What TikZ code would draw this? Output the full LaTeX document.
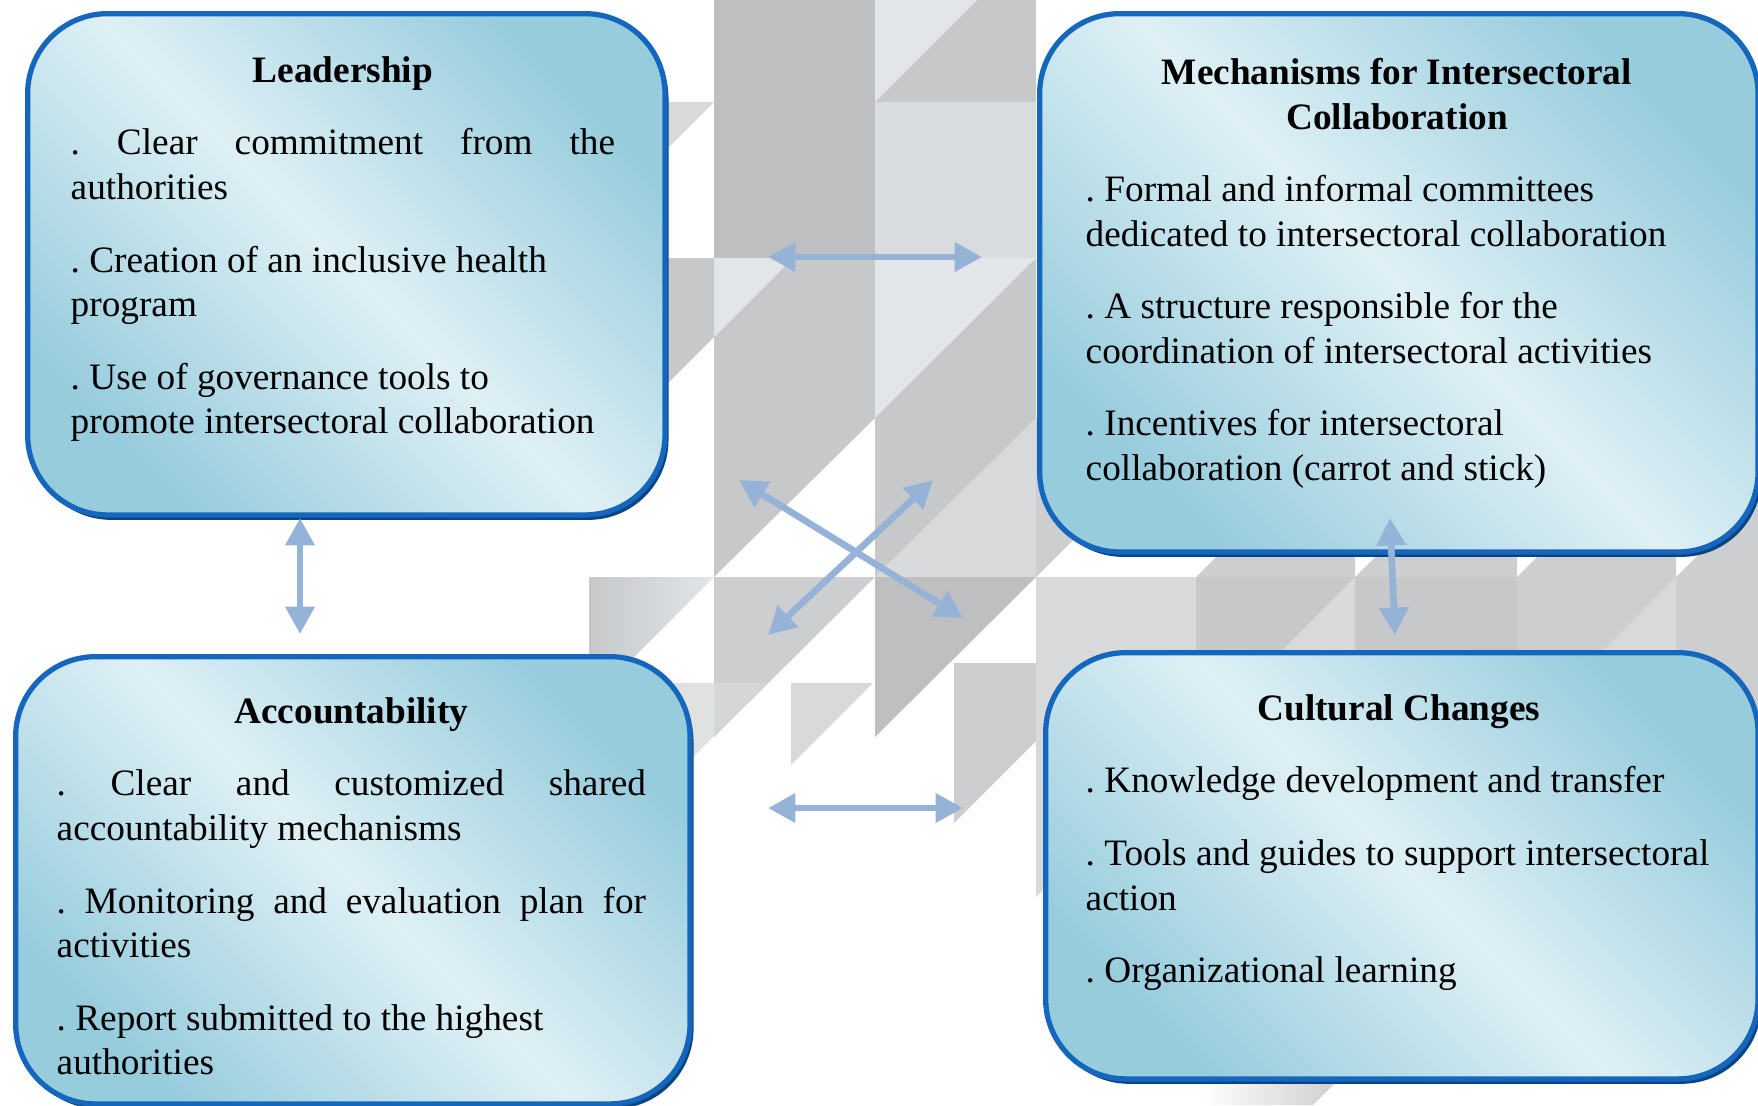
\documentclass[tikz,border=0pt]{standalone}
\usepackage{fontspec}
\setmainfont{Liberation Serif}
\usetikzlibrary{arrows.meta,shadows,positioning}
\frenchspacing

\definecolor{panelblue}{HTML}{1567BE}
\definecolor{panelrim}{HTML}{0B4484}
\definecolor{paneledge}{HTML}{97CCDD}
\definecolor{panellight}{HTML}{DEF0F5}
\definecolor{arrowblue}{HTML}{95B3D7}
\definecolor{tileA}{HTML}{BDBFC1}
\definecolor{tileB}{HTML}{C6C8CA}
\definecolor{tileC}{HTML}{CDCECF}
\definecolor{tileD}{HTML}{D8D9DA}
\definecolor{tileE}{HTML}{E2E6E8}

\tikzset{
  panel/.style={rectangle, rounded corners=0.8cm, draw=panelblue, line width=1.5pt,
    top color=paneledge, bottom color=paneledge, middle color=panellight,
    shading angle=-45, inner sep=0pt,
    general shadow={shadow xshift=1pt, shadow yshift=-1.4pt, fill=panelrim}},
  paneltext/.style={inner sep=0pt, anchor=north west,
    font=\fontsize{10.6pt}{12.7pt}\selectfont,
    execute at begin node={\setlength{\parindent}{0pt}\setlength{\parskip}{7.9pt}}},
  link/.style={draw=arrowblue, line width=1.9pt,
    {Triangle[length=7.8pt,width=8pt]}-{Triangle[length=7.8pt,width=8pt]}}
}

\begin{document}
\begin{tikzpicture}[x=0.01cm, y=-0.01cm]
  \useasboundingbox (0,0) rectangle (1758,1105);

  % grey tiles behind the panels
  \fill[tileA] (714,0) rectangle (875,258);
  \fill[tileB] (714,258) -- (875,258) -- (875,418) -- (714,577) -- cycle;
  \fill[tileE] (714,258) -- (793,258) -- (714,337) -- cycle;
  \fill[tileD] (555,102) -- (714,102) -- (555,261) -- cycle;
  \fill[tileB] (555,258) -- (714,258) -- (714,337) -- (555,496) -- cycle;
  \fill[tileB] (875,0) rectangle (1036,102);
  \fill[tileE] (875,0) -- (977,0) -- (875,102) -- cycle;
  \fill[tileE!90!gray] (875,102) rectangle (1036,258);
  \fill[tileE] (875,258) -- (1036,258) -- (875,418) -- cycle;
  \fill[tileB] (1036,258) -- (1036,418) -- (875,418) -- cycle;
  \fill[tileB] (875,418) -- (1036,418) -- (875,577) -- cycle;
  \fill[tileD] (1036,418) -- (1036,577) -- (875,577) -- cycle;
  \fill[tileA] (875,577) -- (1036,577) -- (875,737) -- cycle;
  \fill[tileC] (714,577) -- (875,577) -- (714,737) -- cycle;
  \shade[left color=tileB, right color=tileE] (589,577) -- (714,577) -- (589,702) -- cycle;
  \fill[tileD, opacity=0.8] (667,683) -- (767,683) -- (667,783) -- cycle;
  \fill[tileD] (791,683) -- (873,683) -- (791,765) -- cycle;
  \fill[tileC] (954,663) -- (1114,663) -- (954,823) -- cycle;
  \fill[tileC] (1036,418) -- (1196,418) -- (1036,577) -- cycle;
  \fill[tileD] (1036,577) rectangle (1196,737);
  \fill[tileD] (1036,737) -- (1196,737) -- (1036,897) -- cycle;
  \fill[tileC] (1355,418) -- (1355,577) -- (1196,577) -- cycle;
  \fill[tileC] (1517,418) -- (1517,577) -- (1355,577) -- cycle;
  \fill[tileC] (1676,418) -- (1676,577) -- (1517,577) -- cycle;
  \fill[tileC] (1836,418) -- (1836,577) -- (1676,577) -- cycle;
  \fill[tileB] (1196,577) rectangle (1355,737);
  \fill[tileD] (1355,577) -- (1355,737) -- (1196,737) -- cycle;
  \fill[tileB] (1355,577) rectangle (1517,737);
  \fill[tileC] (1517,577) rectangle (1758,737);
  \fill[tileD] (1676,577) -- (1676,737) -- (1517,737) -- cycle;
  \shade[left color=white, right color=tileC] (1199,1078) -- (1340,1078) -- (1313,1105) -- (1199,1105) -- cycle;

  % panels
  \node[panel, minimum width=6.37cm, minimum height=5.01cm, anchor=north west] (lead) at (25,11) {};
  \node[panel, minimum width=7.18cm, minimum height=5.38cm, anchor=north west] (mech) at (1037,11) {};
  \node[panel, minimum width=6.74cm, minimum height=4.47cm, anchor=north west] (acct) at (13,654) {};
  \node[panel, minimum width=7.12cm, minimum height=4.26cm, anchor=north west] (cult) at (1043,650) {};

  % panel texts
  \node[paneltext, text width=5.44cm, align=justify, below right=0.395cm and 0.45cm of lead.north west] (leadtxt)
    {{\centering\bfseries\strut Leadership\par}
     . Clear commitment from the\linebreak authorities\par
     . Creation of an inclusive health\\ program\par
     . Use of governance tools to\\ promote intersectoral collaboration};
  \node[paneltext, text width=6.22cm, align=flush left, below right=0.415cm and 0.48cm of mech.north west] (mechtxt)
    {{\centering\bfseries\strut Mechanisms for Intersectoral\\ Collaboration\par}
     . Formal and informal committees\\ dedicated to intersectoral collaboration\par
     . A structure responsible for the\\ coordination of intersectoral activities\par
     . Incentives for intersectoral\\ collaboration (carrot and stick)};
  \node[paneltext, text width=5.89cm, align=justify, below right=0.375cm and 0.43cm of acct.north west] (accttxt)
    {{\centering\bfseries\strut Accountability\par}
     . Clear and customized shared\linebreak accountability mechanisms\par
     . Monitoring and evaluation plan for\linebreak activities\par
     . Report submitted to the highest\\ authorities};
  \node[paneltext, text width=6.6cm, align=flush left, below right=0.385cm and 0.42cm of cult.north west] (culttxt)
    {\makebox[6.26cm]{\bfseries\strut Cultural Changes}\par
     . Knowledge development and transfer\par
     . Tools and guides to support intersectoral\\ action\par
     . Organizational learning};

  % arrow ends
  \coordinate (topL) at (768,257);
  \coordinate (topR) at (982,257);
  \coordinate (leftT) at (300,518);
  \coordinate (leftB) at (300,634);
  \coordinate (rightT) at (1390,518);
  \coordinate (rightB) at (1395,635);
  \coordinate (botL) at (768,808);
  \coordinate (botR) at (963,808);
  \coordinate (crossNW) at (739,480);
  \coordinate (crossSE) at (963,618);
  \coordinate (crossNE) at (933,480);
  \coordinate (crossSW) at (768,635);

  \draw[link] (topL) -- (topR);
  \draw[link] (leftT) -- (leftB);
  \draw[link] (rightT) -- (rightB);
  \draw[link] (botL) -- (botR);
  \draw[link] (crossNW) -- (crossSE);
  \draw[link] (crossNE) -- (crossSW);
\end{tikzpicture}
\end{document}
